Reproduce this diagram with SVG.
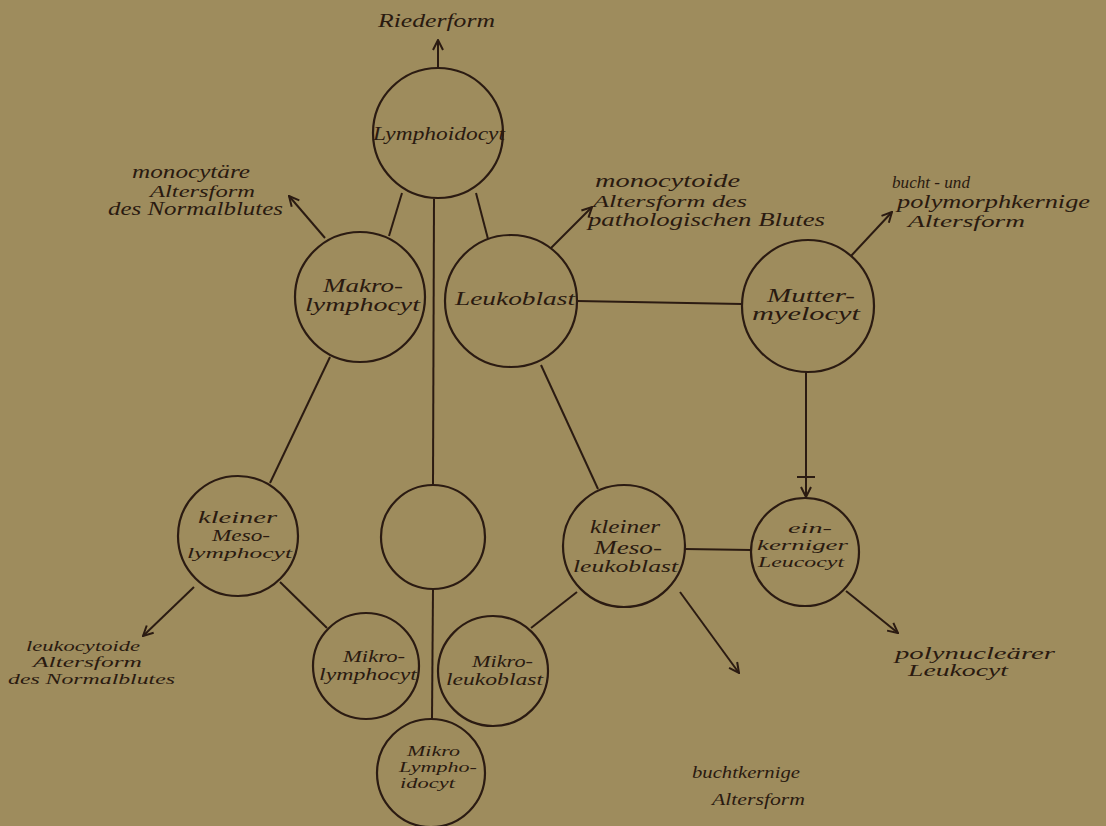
<svg xmlns="http://www.w3.org/2000/svg" width="1106" height="826" viewBox="0 0 1106 826">
<style>
.bg{fill:#9e8c5d}
.c{fill:none;stroke:#2b1b12;stroke-width:2.2}
.l{fill:none;stroke:#2b1b12;stroke-width:2}
.t{font-family:"Liberation Serif",serif;font-style:italic;font-size:18px;fill:#2a1a10}
.s{font-size:15px}
.m{font-size:16px}
</style>
<defs>
<marker id="ah" viewBox="0 0 12 12" refX="11" refY="6" markerWidth="12" markerHeight="12" markerUnits="userSpaceOnUse" orient="auto">
<path d="M1,1 L11,6 L1,11" fill="none" stroke="#2b1b12" stroke-width="2"/>
</marker>
</defs>
<rect class="bg" x="0" y="0" width="1106" height="826"/>
<g id="connectors">
<line class="l" x1="438" y1="68" x2="438" y2="40" marker-end="url(#ah)"/>
<line class="l" x1="402" y1="193" x2="389" y2="236"/>
<line class="l" x1="476" y1="193" x2="488" y2="239"/>
<line class="l" x1="434" y1="199" x2="433" y2="485"/>
<line class="l" x1="433" y1="589" x2="432" y2="719"/>
<line class="l" x1="577" y1="301" x2="742" y2="304"/>
<line class="l" x1="325" y1="238" x2="289" y2="196" marker-end="url(#ah)"/>
<line class="l" x1="551" y1="248" x2="592" y2="207" marker-end="url(#ah)"/>
<line class="l" x1="851" y1="256" x2="892" y2="212" marker-end="url(#ah)"/>
<line class="l" x1="806" y1="372" x2="806" y2="497" marker-end="url(#ah)"/>
<line class="l" x1="797" y1="477" x2="815" y2="477"/>
<line class="l" x1="541" y1="365" x2="598" y2="489"/>
<line class="l" x1="685" y1="549" x2="751" y2="550"/>
<line class="l" x1="846" y1="591" x2="898" y2="633" marker-end="url(#ah)"/>
<line class="l" x1="680" y1="592" x2="739" y2="673" marker-end="url(#ah)"/>
<line class="l" x1="577" y1="592" x2="531" y2="628"/>
<line class="l" x1="330" y1="357" x2="270" y2="483"/>
<line class="l" x1="280" y1="582" x2="327" y2="628"/>
<line class="l" x1="194" y1="587" x2="143" y2="636" marker-end="url(#ah)"/>
</g>
<g id="lymphoidocyt">
<circle class="c" cx="438" cy="133" r="65"/>
<text class="t" x="373" y="140" textLength="132" lengthAdjust="spacingAndGlyphs">Lymphoidocyt</text>
</g>
<g id="makrolymphocyt">
<circle class="c" cx="360" cy="297" r="65"/>
<text class="t" x="323" y="292" textLength="80" lengthAdjust="spacingAndGlyphs">Makro-</text>
<text class="t" x="305" y="311" textLength="115" lengthAdjust="spacingAndGlyphs">lymphocyt</text>
</g>
<g id="leukoblast">
<circle class="c" cx="511" cy="301" r="66"/>
<text class="t" x="455" y="305" textLength="120" lengthAdjust="spacingAndGlyphs">Leukoblast</text>
</g>
<g id="muttermyelocyt">
<circle class="c" cx="808" cy="306" r="66"/>
<text class="t" x="767" y="302" textLength="88" lengthAdjust="spacingAndGlyphs">Mutter-</text>
<text class="t" x="752" y="320" textLength="108" lengthAdjust="spacingAndGlyphs">myelocyt</text>
</g>
<g id="einkerniger">
<circle class="c" cx="805" cy="552" r="54"/>
<text class="t s" x="788" y="533" textLength="44" lengthAdjust="spacingAndGlyphs">ein-</text>
<text class="t s" x="757" y="550" textLength="91" lengthAdjust="spacingAndGlyphs">kerniger</text>
<text class="t s" x="758" y="567" textLength="86" lengthAdjust="spacingAndGlyphs">Leucocyt</text>
</g>
<g id="mesoleukoblast">
<circle class="c" cx="624" cy="546" r="61"/>
<text class="t" x="590" y="533" textLength="70" lengthAdjust="spacingAndGlyphs">kleiner</text>
<text class="t" x="594" y="554" textLength="68" lengthAdjust="spacingAndGlyphs">Meso-</text>
<text class="t m" x="573" y="572" textLength="105" lengthAdjust="spacingAndGlyphs">leukoblast</text>
</g>
<g id="mesolymphocyt">
<circle class="c" cx="238" cy="536" r="60"/>
<text class="t m" x="198" y="523" textLength="79" lengthAdjust="spacingAndGlyphs">kleiner</text>
<text class="t m" x="212" y="541" textLength="58" lengthAdjust="spacingAndGlyphs">Meso-</text>
<text class="t s" x="187" y="558" textLength="105" lengthAdjust="spacingAndGlyphs">lymphocyt</text>
</g>
<g id="leerer-kreis">
<circle class="c" cx="433" cy="537" r="52"/>
</g>
<g id="mikrolymphocyt">
<circle class="c" cx="366" cy="666" r="53"/>
<text class="t m" x="343" y="662" textLength="62" lengthAdjust="spacingAndGlyphs">Mikro-</text>
<text class="t m" x="319" y="680" textLength="98" lengthAdjust="spacingAndGlyphs">lymphocyt</text>
</g>
<g id="mikroleukoblast">
<circle class="c" cx="493" cy="671" r="55"/>
<text class="t m" x="472" y="667" textLength="61" lengthAdjust="spacingAndGlyphs">Mikro-</text>
<text class="t m" x="446" y="685" textLength="97" lengthAdjust="spacingAndGlyphs">leukoblast</text>
</g>
<g id="mikrolymphoidocyt">
<circle class="c" cx="431" cy="773" r="54"/>
<text class="t s" x="407" y="756" textLength="53" lengthAdjust="spacingAndGlyphs">Mikro</text>
<text class="t s" x="399" y="772" textLength="78" lengthAdjust="spacingAndGlyphs">Lympho-</text>
<text class="t s" x="400" y="788" textLength="55" lengthAdjust="spacingAndGlyphs">idocyt</text>
</g>
<g id="labels">
<text class="t" x="378" y="27" textLength="117" lengthAdjust="spacingAndGlyphs">Riederform</text>
<text class="t" x="132" y="178" textLength="118" lengthAdjust="spacingAndGlyphs">monocytäre</text>
<text class="t m" x="150" y="197" textLength="105" lengthAdjust="spacingAndGlyphs">Altersform</text>
<text class="t" x="108" y="215" textLength="175" lengthAdjust="spacingAndGlyphs">des Normalblutes</text>
<text class="t" x="595" y="187" textLength="145" lengthAdjust="spacingAndGlyphs">monocytoide</text>
<text class="t m" x="593" y="207" textLength="154" lengthAdjust="spacingAndGlyphs">Altersform des</text>
<text class="t" x="588" y="226" textLength="237" lengthAdjust="spacingAndGlyphs">pathologischen Blutes</text>
<text class="t m" x="892" y="188" textLength="78" lengthAdjust="spacingAndGlyphs">bucht - und</text>
<text class="t" x="897" y="208" textLength="193" lengthAdjust="spacingAndGlyphs">polymorphkernige</text>
<text class="t m" x="908" y="227" textLength="117" lengthAdjust="spacingAndGlyphs">Altersform</text>
<text class="t m" x="895" y="659" textLength="160" lengthAdjust="spacingAndGlyphs">polynucleärer</text>
<text class="t m" x="908" y="676" textLength="100" lengthAdjust="spacingAndGlyphs">Leukocyt</text>
<text class="t m" x="692" y="778" textLength="108" lengthAdjust="spacingAndGlyphs">buchtkernige</text>
<text class="t m" x="712" y="805" textLength="93" lengthAdjust="spacingAndGlyphs">Altersform</text>
<text class="t s" x="26" y="651" textLength="114" lengthAdjust="spacingAndGlyphs">leukocytoide</text>
<text class="t s" x="33" y="667" textLength="109" lengthAdjust="spacingAndGlyphs">Altersform</text>
<text class="t s" x="8" y="684" textLength="167" lengthAdjust="spacingAndGlyphs">des Normalblutes</text>
</g>
</svg>
